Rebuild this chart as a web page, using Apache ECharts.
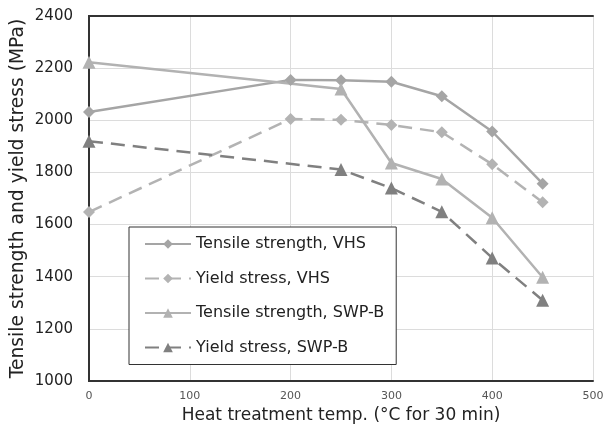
<!DOCTYPE html>
<html><head><meta charset="utf-8">
<script src="https://cdn.jsdelivr.net/npm/echarts@6/dist/echarts.min.js"></script>
<style>html,body{margin:0;padding:0;background:#fff}#c{width:604px;height:430px}</style>
</head><body><div id="c"></div>
<script>
var temps = [0, 200, 250, 300, 350, 400, 450];
var tsVHS = [2032, 2155, 2154, 2148, 2092, 1957, 1757];
var ysVHS = [1648, 2005, 2002, 1982, 1954, 1831, 1686];
var swpTemps = [0, 250, 300, 350, 400, 450];
var tsSWP = [2223, 2120, 1836, 1775, 1626, 1398];
var ysSWP = [1920, 1811, 1740, 1649, 1472, 1310];
var names = ['Tensile strength, VHS', 'Yield stress, VHS', 'Tensile strength, SWP-B', 'Yield stress, SWP-B'];

function pairs(xs, ys){ return xs.map(function(x,i){return [x, ys[i]];}); }
var font = 'DejaVu Sans, Verdana, sans-serif';
function mk(name, xs, ys, color, dashed, symbol, size){
  return {
    name: name, type: 'line', data: pairs(xs, ys),
    symbol: symbol, symbolSize: size,
    lineStyle: {color: color, width: 2.5, type: dashed ? [14, 8] : 'solid'},
    itemStyle: {color: color},
    emphasis: {disabled: true}, animation: false
  };
}
var frameAxis = {
  axisLine: {show: true, lineStyle: {color: '#333', width: 2}},
  axisTick: {show: false}, axisLabel: {show: false}, splitLine: {show: false}
};
var chart = echarts.init(document.getElementById('c'));
chart.setOption({
  animation: false,
  textStyle: {fontFamily: font},
  grid: {left: 89, right: 11, top: 16, bottom: 49, outerBoundsMode: 'none', containLabel: false},
  xAxis: [{
    type: 'value', min: 0, max: 500, interval: 100,
    name: 'Heat treatment temp. (°C for 30 min)', nameLocation: 'middle', nameGap: 26,
    nameTextStyle: {fontSize: 17, color: '#222', fontFamily: font},
    axisLine: {show: true, lineStyle: {color: '#333', width: 2}},
    axisTick: {show: false},
    axisLabel: {fontSize: 11, color: '#555', margin: 10, fontFamily: font},
    splitLine: {show: true, lineStyle: {color: '#dcdcdc', width: 1}}
  }, Object.assign({type: 'value', min: 0, max: 500, position: 'top'}, frameAxis)],
  yAxis: [{
    type: 'value', min: 1000, max: 2400, interval: 200,
    name: 'Tensile strength and yield stress (MPa)', nameLocation: 'middle', nameGap: 61, nameMoveOverlap: false,
    nameTextStyle: {fontSize: 18.7, color: '#222', fontFamily: font},
    axisLine: {show: true, lineStyle: {color: '#333', width: 2}},
    axisTick: {show: false},
    axisLabel: {fontSize: 15, color: '#222', margin: 16, fontFamily: font, formatter: function(v){return String(v);}},
    splitLine: {show: true, lineStyle: {color: '#dcdcdc', width: 1}}
  }, Object.assign({type: 'value', min: 1000, max: 2400, position: 'right'}, frameAxis)],
  legend: {
    data: names, orient: 'vertical', left: 129, top: 227,
    backgroundColor: '#fff', borderColor: '#333', borderWidth: 1,
    padding: [9, 12, 9, 15], itemGap: 18.5, itemWidth: 46, itemHeight: 12,
    textStyle: {fontSize: 16, color: '#222', fontFamily: font}
  },
  series: [
    mk(names[0], temps, tsVHS, '#a5a5a5', false, 'diamond', 12),
    mk(names[1], temps, ysVHS, '#b3b3b3', true, 'diamond', 12),
    mk(names[2], swpTemps, tsSWP, '#b2b2b2', false, 'triangle', 13),
    mk(names[3], swpTemps, ysSWP, '#808080', true, 'triangle', 13)
  ]
});
</script></body></html>
